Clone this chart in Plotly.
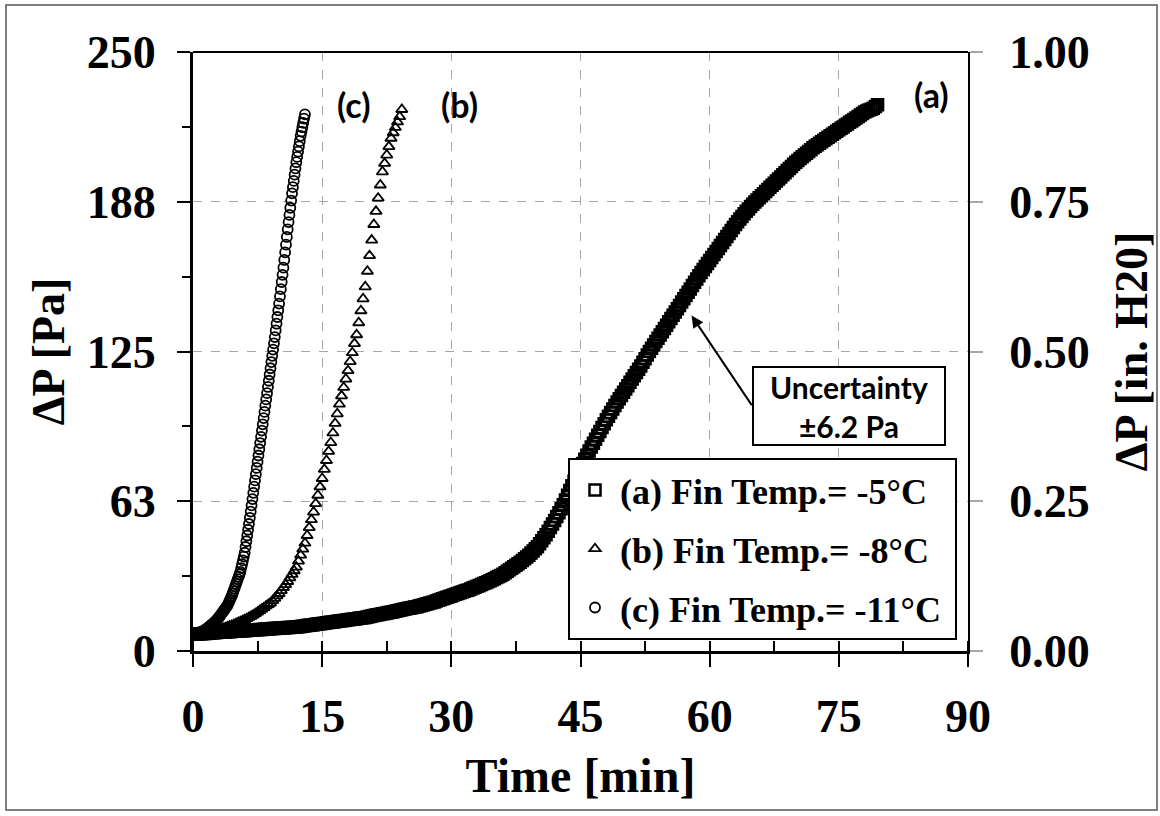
import plotly.graph_objects as go

# ---------------- data ----------------
# (a) Fin Temp = -5 C, read every 0.25 min
dp_a = [7.0, 7.05, 7.1, 7.15, 7.2, 7.28, 7.35, 7.43, 7.5, 7.58, 7.65, 7.73,
        7.8, 7.85, 7.9, 7.95, 8.0, 8.08, 8.15, 8.23, 8.3, 8.35, 8.4, 8.45,
        8.5, 8.58, 8.65, 8.73, 8.8, 8.85, 8.9, 8.95, 9.0, 9.08, 9.15, 9.23,
        9.3, 9.35, 9.4, 9.45, 9.5, 9.58, 9.65, 9.73, 9.8, 9.85, 9.9, 9.95,
        10.0, 10.13, 10.25, 10.38, 10.5, 10.63, 10.75, 10.88, 11.0, 11.13, 11.25, 11.38,
        11.5, 11.63, 11.75, 11.88, 12.0, 12.13, 12.25, 12.38, 12.5, 12.63, 12.75, 12.88,
        13.0, 13.13, 13.25, 13.38, 13.5, 13.63, 13.75, 13.88, 14.0, 14.2, 14.4, 14.6,
        14.8, 14.98, 15.15, 15.33, 15.5, 15.68, 15.85, 16.03, 16.2, 16.4, 16.6, 16.8,
        17.0, 17.2, 17.4, 17.6, 17.8, 17.98, 18.15, 18.33, 18.5, 18.75, 19.0, 19.25,
        19.5, 19.75, 20.0, 20.25, 20.5, 20.83, 21.15, 21.48, 21.8, 22.1, 22.4, 22.7,
        23.0, 23.33, 23.65, 23.98, 24.3, 24.6, 24.9, 25.2, 25.5, 25.88, 26.25, 26.63,
        27.0, 27.38, 27.75, 28.13, 28.5, 28.93, 29.35, 29.78, 30.2, 30.65, 31.1, 31.55,
        32.0, 32.63, 33.25, 33.88, 34.5, 35.13, 35.75, 36.38, 37.0, 37.75, 38.5, 39.25,
        40.0, 40.88, 41.75, 42.63, 43.5, 44.75, 46.0, 47.25, 48.5, 50.0, 51.5, 53.0,
        54.5, 56.13, 57.75, 59.38, 61.0, 63.0, 65.0, 67.0, 69.0, 70.88, 72.75, 74.63,
        76.5, 78.25, 80.0, 81.75, 83.5, 85.13, 86.75, 88.38, 90.0, 91.63, 93.25, 94.88,
        96.5, 98.0, 99.5, 101.0, 102.5, 103.88, 105.25, 106.63, 108.0, 109.38, 110.75, 112.13,
        113.5, 114.88, 116.25, 117.63, 119.0, 120.5, 122.0, 123.5, 125.0, 126.38, 127.75, 129.13,
        130.5, 131.88, 133.25, 134.63, 136.0, 137.38, 138.75, 140.13, 141.5, 142.88, 144.25, 145.63,
        147.0, 148.38, 149.75, 151.13, 152.5, 153.88, 155.25, 156.63, 158.0, 159.25, 160.5, 161.75,
        163.0, 164.25, 165.5, 166.75, 168.0, 169.25, 170.5, 171.75, 173.0, 174.25, 175.5, 176.75,
        178.0, 179.13, 180.25, 181.38, 182.5, 183.5, 184.5, 185.5, 186.5, 187.38, 188.25, 189.13,
        190.0, 190.88, 191.75, 192.63, 193.5, 194.38, 195.25, 196.13, 197.0, 197.88, 198.75, 199.63,
        200.5, 201.38, 202.25, 203.13, 204.0, 204.75, 205.5, 206.25, 207.0, 207.75, 208.5, 209.25,
        210.0, 210.63, 211.25, 211.88, 212.5, 213.13, 213.75, 214.38, 215.0, 215.63, 216.25, 216.88,
        217.5, 218.13, 218.75, 219.38, 220.0, 220.63, 221.25, 221.88, 222.5, 223.13, 223.75, 224.38,
        225.0, 225.38, 225.75, 226.13, 226.5, 227.25, 228.0]
step_a = 0.25

# (b) Fin Temp = -8 C, read every 0.25 min
dp_b = [7.0, 7.1, 7.2, 7.4, 7.5, 7.6, 7.8, 7.9, 8.0, 8.2, 8.5, 8.7,
        9.0, 9.2, 9.5, 9.7, 10.0, 10.4, 10.7, 11.1, 11.5, 11.9, 12.2, 12.6,
        13.0, 13.5, 14.0, 14.5, 15.0, 15.6, 16.2, 16.9, 17.5, 18.1, 18.8, 19.4,
        20.0, 21.0, 22.0, 23.0, 24.0, 25.2, 26.5, 27.7, 29.0, 30.5, 32.0, 33.5,
        35.0, 37.5, 40.0, 42.5, 45.0, 48.2, 51.5, 54.8, 58.0, 61.5, 65.0, 68.5,
        72.0, 75.8, 79.5, 83.3, 87.0, 91.0, 95.0, 99.0, 103.0, 106.5, 110.0, 113.5,
        117.0, 120.8, 124.5, 128.3, 132.0, 137.0, 142.0, 147.0,
        152.0, 158.5, 165.0, 171.5, 178.0, 183.5, 189.0, 194.5,
        200.0, 203.5, 207.0, 210.5, 214.0, 216.3, 218.5, 220.8, 223.0, 226.0]
step_b = 0.25

# (c) Fin Temp = -11 C, read every 0.1 min
dp_c = [7.0, 7.1, 7.2, 7.3, 7.4, 7.5, 7.6, 7.7, 7.8, 7.9,
        8.0, 8.2, 8.4, 8.6, 8.8, 9.0, 9.3, 9.6, 9.9, 10.2,
        10.5, 10.8, 11.1, 11.4, 11.7, 12.0, 12.4, 12.8, 13.2, 13.6,
        14.0, 14.5, 15.0, 15.5, 16.0, 16.5, 17.0, 17.5, 18.0, 18.5,
        19.0, 19.8, 20.6, 21.4, 22.2, 23.0, 24.0, 25.0, 26.0, 27.0,
        28.0, 29.0, 30.0, 31.0, 32.0, 33.0, 34.6, 36.2, 37.8, 39.4,
        41.0, 43.4, 45.8, 48.2, 50.6, 53.0, 55.6, 58.2, 60.8, 63.4,
        66.0, 68.6, 71.2, 73.8, 76.4, 79.0, 81.6, 84.2, 86.8, 89.4,
        92.0, 94.6, 97.2, 99.8, 102.4, 105.0, 107.6, 110.2, 112.8, 115.4,
        118.0, 120.6, 123.2, 125.8, 128.4, 131.0, 133.8, 136.6, 139.4, 142.2,
        145.0, 148.0, 151.0, 154.0, 157.0, 160.0, 163.2, 166.4, 169.6, 172.8,
        176.0, 179.0, 182.0, 185.0, 188.0, 191.0, 193.6, 196.2, 198.8, 201.4,
        204.0, 206.2, 208.4, 210.6, 212.8, 215.0, 216.8, 218.6, 220.4, 222.2,
        224.0]
step_c = 0.1

time_a = [round(i * step_a, 3) for i in range(len(dp_a))]
time_b = [round(i * step_b, 3) for i in range(len(dp_b))]
time_c = [round(i * step_c, 3) for i in range(len(dp_c))]

series_names = ["(a) Fin Temp.= -5°C", "(b) Fin Temp.= -8°C", "(c) Fin Temp.= -11°C"]
series_symbols = ["square-open", "triangle-up-open", "circle-open"]

x_ticks = [0, 15, 30, 45, 60, 75, 90]
y_tickvals = [0, 62.5, 125, 187.5, 250]
y_ticktext = ["0", "63", "125", "188", "250"]
y2_tickvals = [0, 0.25, 0.5, 0.75, 1.0]
y2_ticktext = ["0.00", "0.25", "0.50", "0.75", "1.00"]

SERIF = "Liberation Serif"
SANS = "Lato"

fig = go.Figure()
for (tx, ty, nm, sym, grp, sz, lw) in [(time_a, dp_a, series_names[0], series_symbols[0], "a", 11, 2.5),
                                       (time_b, dp_b, series_names[1], series_symbols[1], "b", 10, 1.8),
                                       (time_c, dp_c, series_names[2], series_symbols[2], "c", 10, 1.8)]:
    fig.add_trace(go.Scatter(
        x=tx, y=ty, mode="markers", name=nm + "\u00a0", legendgroup=grp,
        marker=dict(symbol=sym, size=sz, color="black", line=dict(width=lw, color="black")),
    ))

# empty trace so the secondary axis is drawn
fig.add_trace(go.Scatter(x=[None], y=[None], yaxis="y2", showlegend=False, hoverinfo="skip"))

W, H = 1160, 816
L, R, T, B = 193, 192, 52, 165
pw, ph = W - L - R, H - T - B

def px2paper(px, py):
    return (px - L) / pw, (H - B - py) / ph

fig.update_layout(
    width=W, height=H,
    margin=dict(l=L, r=R, t=T, b=B),
    plot_bgcolor="white", paper_bgcolor="white",
    showlegend=True,
    legend=dict(
        x=px2paper(568, 0)[0], y=px2paper(0, 458)[1], xanchor="left", yanchor="top",
        bgcolor="white", bordercolor="black", borderwidth=2,
        font=dict(family=SERIF, size=36, color="black", weight="bold"),
        tracegroupgap=9, itemwidth=40,
    ),
    xaxis=dict(
        range=[0, 90], tickvals=x_ticks, showgrid=True,
        gridcolor="#a6a6a6", griddash="dash", gridwidth=1,
        showline=True, linecolor="black", linewidth=3,
        ticks="outside", ticklen=13, tickwidth=2, tickcolor="black",
        minor=dict(dtick=7.5, ticks="inside", ticklen=10, tickwidth=2, tickcolor="black", showgrid=False),
        tickfont=dict(family=SERIF, size=46, color="black", weight="bold"),
        ticklabelstandoff=10,
        title=dict(text="Time [min]", font=dict(family=SERIF, size=48, color="black", weight="bold"), standoff=18),
        zeroline=False,
    ),
    yaxis=dict(
        range=[0, 250], tickvals=y_tickvals, ticktext=y_ticktext, showgrid=True,
        gridcolor="#a6a6a6", griddash="dash", gridwidth=1,
        showline=True, linecolor="black", linewidth=3,
        ticks="outside", ticklen=13, tickwidth=2, tickcolor="black",
        minor=dict(dtick=31.25, ticks="outside", ticklen=8, tickwidth=2, tickcolor="black", showgrid=False),
        tickfont=dict(family=SERIF, size=46, color="black", weight="bold"),
        ticklabelstandoff=12,
        title=dict(text="ΔP [Pa]", font=dict(family=SERIF, size=46, color="black", weight="bold"), standoff=8),
        zeroline=False,
    ),
    yaxis2=dict(
        range=[0, 1], tickvals=y2_tickvals, ticktext=y2_ticktext, overlaying="y", side="right",
        anchor="x", showgrid=False,
        showline=True, linecolor="black", linewidth=2,
        ticks="outside", ticklen=13, tickwidth=1.5, tickcolor="#a6a6a6",
        tickfont=dict(family=SERIF, size=46, color="black", weight="bold"),
        ticklabelstandoff=17,
        title=dict(text="ΔP [in. H20]", font=dict(family=SERIF, size=46, color="black", weight="bold"), standoff=26),
        zeroline=False,
    ),
)

# top border of plot area and outer frame
fx0, fy0 = px2paper(6, 810)
fx1, fy1 = px2paper(1157, 5)
fig.add_shape(type="rect", xref="paper", yref="paper", x0=fx0, y0=fy0, x1=fx1, y1=fy1,
              line=dict(color="#555555", width=1.5), fillcolor="rgba(0,0,0,0)", layer="above")
fig.add_shape(type="line", xref="paper", yref="paper", x0=0, x1=1, y0=1, y1=1,
              line=dict(color="black", width=2), layer="above")

# curve labels
for txt, (xp, yp) in [("(c)", (353, 104)), ("(b)", (459, 104)), ("(a)", (931, 94))]:
    ax_, ay_ = px2paper(xp, yp)
    fig.add_annotation(x=ax_, y=ay_, xref="paper", yref="paper", xanchor="center", yanchor="middle",
                       text="<b>%s</b>" % txt,
                       showarrow=False, font=dict(family=SANS, size=34, color="black"))

# uncertainty box with arrow
tip_x, tip_y = 57.9, 140.0
tail_x, tail_y = 65.0, 102.0
fig.add_annotation(x=tip_x, y=tip_y, ax=tail_x, ay=tail_y, xref="x", yref="y", axref="x", ayref="y",
                   text="", showarrow=True, arrowhead=2, arrowsize=1.2, arrowwidth=2, arrowcolor="black")
bx, by = px2paper(849, 406)
fig.add_annotation(x=bx, y=by, xref="paper", yref="paper", xanchor="center", yanchor="middle",
                   text="<b>Uncertainty</b><br><b>±6.2 Pa</b>", showarrow=False,
                   font=dict(family=SANS, size=30, color="black"),
                   bordercolor="black", borderwidth=2, borderpad=6, bgcolor="white",
                   width=178, height=64)

fig.write_html("out.html", config={"displayModeBar": False},
               post_script="document.body.style.margin='0';document.body.style.overflow='hidden';")
